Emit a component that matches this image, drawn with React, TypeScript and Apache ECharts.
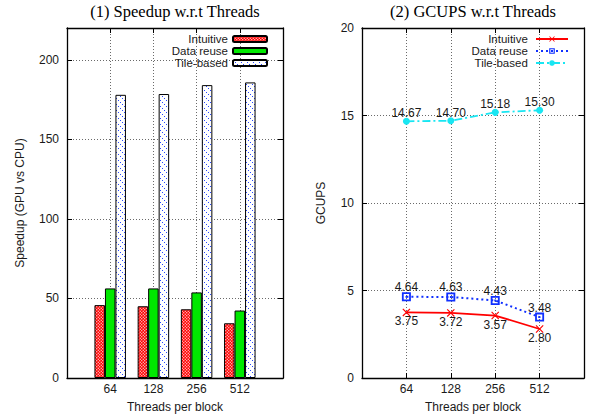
import React, { useEffect, useRef } from "react";
import * as echarts from "echarts";

const categories = ["64", "128", "256", "512"];
const seriesNames = ["Intuitive", "Data reuse", "Tile-based"];
const speedIntuitive = [45.8, 45.1, 43.2, 34.4];
const speedDataReuse = [56.3, 56.3, 53.8, 42.4];
const speedTile = [178.0, 178.5, 184.1, 185.8];
const gcupsIntuitive = [3.75, 3.72, 3.57, 2.8];
const gcupsDataReuse = [4.64, 4.63, 4.43, 3.48];
const gcupsTile = [14.67, 14.7, 15.18, 15.3];

const SANS = "Liberation Sans";
const TXT = "#1a1a1a";

function svgUrl(body: string, w: number, h: number) {
  const s = `<svg xmlns='http://www.w3.org/2000/svg' width='${w}' height='${h}'>${body}</svg>`;
  return "data:image/svg+xml;charset=utf-8," + encodeURIComponent(s);
}

export default function App() {
  const ref = useRef<HTMLDivElement>(null);
  useEffect(() => {
    if (!ref.current) return;
    const chart = echarts.init(ref.current, undefined, { renderer: "svg" });

    const redSvg = svgUrl(
      "<rect width='3' height='3' fill='#ff0000'/><rect x='0.2' y='0.2' width='1.1' height='1.1' fill='#ffffff'/><rect x='1.7' y='1.7' width='1.1' height='1.1' fill='#ffffff'/>",
      3,
      3
    );
    const tileSvg = svgUrl(
      "<rect width='6' height='6' fill='#ffffff'/><rect x='0' y='0' width='1' height='1' fill='#2848ff'/><rect x='2' y='2' width='1' height='1' fill='#2848ff'/><rect x='4' y='4' width='1' height='1' fill='#2848ff'/>",
      6,
      6
    );
    const redFill: any = { image: redSvg, repeat: "repeat", imageWidth: 3, imageHeight: 3 };
    const tileFill: any = { image: tileSvg, repeat: "repeat", imageWidth: 6, imageHeight: 6 };

    const pts = (arr: number[]) => arr.map((v, i) => [i, v]);
    const catLabel = (v: number) => (v >= 0 && v < categories.length && Number.isInteger(v) ? categories[v] : "");

    const G1 = { left: 67, top: 28, width: 216, height: 350, outerBoundsMode: "none", containLabel: false };
    const G2 = { left: 362, top: 28, width: 222, height: 350, outerBoundsMode: "none", containLabel: false };

    const splitLine = { show: true, lineStyle: { color: "#444", width: 0.8, type: [1, 2] as any } };
    const axisLine = { show: true, onZero: false, lineStyle: { color: "#000", width: 1.3 } };
    const tick = { show: true, inside: true, length: 5, lineStyle: { color: "#000", width: 1 } };
    const labelStyle = { fontFamily: SANS, fontSize: 12, color: TXT };

    const xAxisBase = (gi: number, pos: "bottom" | "top") => ({
      type: "value",
      gridIndex: gi,
      position: pos,
      min: -1,
      max: 4,
      interval: 1,
      axisLine,
      axisTick: tick,
      splitLine: pos === "bottom" ? splitLine : { show: false },
      axisLabel:
        pos === "bottom"
          ? { ...labelStyle, margin: 5, formatter: (v: number) => catLabel(v) }
          : { show: false },
      name: pos === "bottom" ? "Threads per block" : "",
      nameLocation: "middle",
      nameGap: 23,
      nameTextStyle: { ...labelStyle },
    });

    const yAxisBase = (gi: number, pos: "left" | "right", max: number, interval: number, name: string, nameGap: number, showMax: boolean) => ({
      type: "value",
      gridIndex: gi,
      position: pos,
      min: 0,
      max,
      interval,
      axisLine,
      axisTick: tick,
      splitLine: pos === "left" ? splitLine : { show: false },
      axisLabel:
        pos === "left" ? { ...labelStyle, margin: 8, showMaxLabel: showMax } : { show: false },
      name: pos === "left" ? name : "",
      nameLocation: "middle",
      nameGap,
      nameRotate: 90,
      nameTextStyle: { ...labelStyle },
    });

    const barCommon = {
      type: "bar",
      xAxisIndex: 0,
      yAxisIndex: 0,
      barWidth: 10.5,
      barGap: "0%",
    };

    const xShape = "path://M0,1 L1,0 L5,4 L9,0 L10,1 L6,5 L10,9 L9,10 L5,6 L1,10 L0,9 L4,5 Z";
    const sqShape = "path://M0,0 L10,0 L10,10 L0,10 Z M2,2 L2,8 L8,8 L8,2 Z M4,4 L6,4 L6,6 L4,6 Z";

    const lblStyle = { show: true, fontFamily: SANS, fontSize: 12, color: TXT };
    const legendText = { fontFamily: SANS, fontSize: 11.5, color: TXT, lineHeight: 11.8 };

    chart.setOption({
      animation: false,
      backgroundColor: "#ffffff",
      graphic: [
        {
          type: "text",
          x: G1.left + G1.width / 2,
          y: 11,
          style: { text: "(1) Speedup w.r.t Threads", font: '16.5px "Liberation Serif"', fill: "#000", align: "center", verticalAlign: "middle" },
        },
        {
          type: "text",
          x: G2.left + G2.width / 2,
          y: 11,
          style: { text: "(2) GCUPS w.r.t Threads", font: '16.5px "Liberation Serif"', fill: "#000", align: "center", verticalAlign: "middle" },
        },
      ],
      grid: [G1, G2],
      legend: [
        {
          data: seriesNames.map((n) => ({ name: n })),
          orient: "vertical",
          align: "right",
          right: 595 - 268,
          top: 33,
          padding: 0,
          itemWidth: 34,
          itemHeight: 6,
          itemGap: 0,
          textStyle: legendText,
          selectedMode: false,
        },
        {
          data: seriesNames.map((n) => ({ name: n + " " })),
          orient: "vertical",
          align: "right",
          right: 595 - 569,
          top: 33,
          padding: 0,
          itemWidth: 32,
          itemHeight: 7,
          itemGap: 0,
          textStyle: legendText,
          selectedMode: false,
        },
      ],
      xAxis: [xAxisBase(0, "bottom"), xAxisBase(0, "top"), xAxisBase(1, "bottom"), xAxisBase(1, "top")],
      yAxis: [
        yAxisBase(0, "left", 220, 50, "Speedup (GPU vs CPU)", 41, false),
        yAxisBase(0, "right", 220, 50, "", 0, false),
        yAxisBase(1, "left", 20, 5, "GCUPS", 35, true),
        yAxisBase(1, "right", 20, 5, "", 0, true),
      ],
      series: [
        {
          ...barCommon,
          name: seriesNames[0],
          data: pts(speedIntuitive),
          itemStyle: { color: redFill, borderColor: "#000", borderWidth: 1 },
        },
        {
          ...barCommon,
          name: seriesNames[1],
          data: pts(speedDataReuse),
          itemStyle: { color: "#00e800", borderColor: "#000", borderWidth: 1 },
        },
        {
          ...barCommon,
          name: seriesNames[2],
          data: pts(speedTile),
          itemStyle: { color: tileFill, borderColor: "#000", borderWidth: 1 },
        },
        {
          type: "line",
          name: seriesNames[0] + " ",
          xAxisIndex: 2,
          yAxisIndex: 2,
          data: pts(gcupsIntuitive),
          symbol: xShape,
          symbolSize: 8,
          color: "#ff0000",
          lineStyle: { color: "#ff0000", width: 1.8, type: "solid" },
          itemStyle: { color: "#ff0000" },
          label: { ...lblStyle, position: "bottom", distance: -1, formatter: (p: any) => p.value[1].toFixed(2) },
        },
        {
          type: "line",
          name: seriesNames[1] + " ",
          xAxisIndex: 2,
          yAxisIndex: 2,
          data: pts(gcupsDataReuse),
          symbol: sqShape,
          symbolSize: 9,
          color: "#1030ff",
          lineStyle: { color: "#1030ff", width: 2, type: [2, 3] },
          itemStyle: { color: "#1030ff" },
          label: { ...lblStyle, position: "top", distance: -1, formatter: (p: any) => p.value[1].toFixed(2) },
        },
        {
          type: "line",
          name: seriesNames[2] + " ",
          xAxisIndex: 2,
          yAxisIndex: 2,
          data: pts(gcupsTile),
          symbol: "circle",
          symbolSize: 7,
          color: "#18e6f2",
          lineStyle: { color: "#18e6f2", width: 1.8, type: [8, 3, 2, 3] },
          itemStyle: { color: "#18e6f2" },
          label: { ...lblStyle, position: "top", distance: -1.5, formatter: (p: any) => p.value[1].toFixed(2) },
        },
      ],
    } as any);
    return () => chart.dispose();
  }, []);
  return <div ref={ref} style={{ position: "fixed", left: 0, top: 0, width: 595, height: 415, background: "#fff" }} />;
}
